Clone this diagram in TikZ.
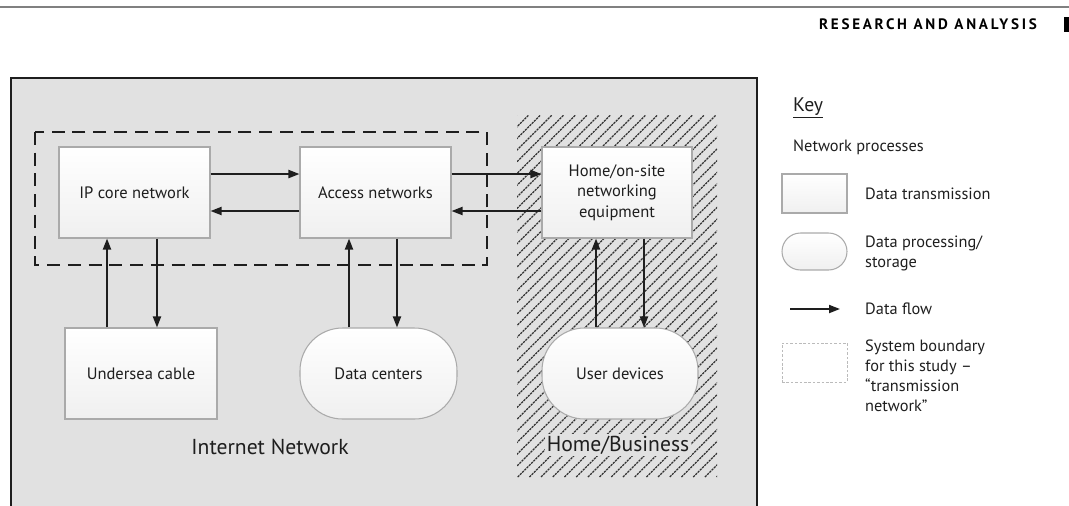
\documentclass[tikz,border=0pt]{standalone}
\usepackage{fontspec}
\setmainfont{PT Sans}
\newfontfamily\headfont[LetterSpace=18]{PT Sans}
\usepackage{tikz}
\usetikzlibrary{arrows.meta,calc,positioning}
\definecolor{panelgray}{RGB}{225,225,225}
\definecolor{edgegray}{RGB}{170,170,170}
\definecolor{inkgray}{RGB}{30,30,30}
\tikzset{
  flow/.style={-{Triangle[length=2.2mm,width=1.6mm]},line width=1.1pt,inkgray},
  proc/.style={draw=edgegray,line width=0.6pt,top color=white,bottom color=black!6,
               minimum width=3.02cm,minimum height=1.82cm,inner sep=2pt,align=center,
               font=\fontsize{9.4}{11.6}\selectfont,text=inkgray},
  store/.style={proc,rounded corners=0.85cm},
  boundary/.style={inkgray,line width=1pt,dash pattern=on 7.4pt off 4.4pt},
  hatch/.style={black!80,line width=0.7pt,dash pattern=on 1.3pt off 0.5pt},
  keybox/.style={proc,minimum width=1.3cm,minimum height=0.78cm},
  keytext/.style={anchor=west,align=left,font=\fontsize{9.3}{11.3}\selectfont,text=inkgray},
  region/.style={font=\fontsize{12.3}{14}\selectfont,text=inkgray},
}

\begin{document}
\begin{tikzpicture}[x=0.02cm,y=-0.02cm]
  \useasboundingbox (0,0) rectangle (1069,505);
  \clip (0,0) rectangle (1069,505);

  % page header
  \draw[gray,line width=0.8pt] (0,7) -- (1069,7);
  \node[anchor=east,font=\headfont\bfseries\fontsize{8.6}{10}\selectfont] (header) at (1043,24)
    {RESEARCH AND ANALYSIS};
  \fill (1064,17) rectangle (1069,32);

  % internet panel and home/business area
  \draw[inkgray,line width=1.3pt,fill=panelgray] (11,78) rectangle (757,520);
  \begin{scope}
    \clip (517,115) rectangle (717,477);
    \foreach \i in {0,...,48}
      \draw[hatch] (155+11.7*\i,477) -- ++(362,-362);
  \end{scope}
  \draw[boundary] (35,132) rectangle (487,265);

  \node[proc] (ipcore) at (134.5,192.5) {IP core network};
  \node[proc] (access) at (375.5,192.5) {Access networks};
  \node[proc,minimum width=3.0cm] (home) at (617,192.5)
    {Home/on-site\\networking\\equipment};
  \node[proc,minimum width=3.04cm] (undersea) at (141,373.5) {Undersea cable};
  \node[store,minimum width=3.14cm] (datacenters) at (378.5,373.5) {Data centers};
  \node[store,minimum width=3.12cm] (userdev) at (620,373.5) {User devices};

  \node[region] (internet) at (270,447) {Internet Network};
  \node[region,fill=panelgray,inner sep=1pt] (business) at (618,445) {Home/Business};

  \draw[flow] ([yshift=0.37cm]ipcore.east) -- ([yshift=0.37cm]access.west);
  \draw[flow] ([yshift=-0.37cm]access.west) -- ([yshift=-0.37cm]ipcore.east);
  \draw[flow] ([yshift=0.37cm]access.east) -- ([yshift=0.37cm]home.west);
  \draw[flow] ([yshift=-0.37cm]home.west) -- ([yshift=-0.37cm]access.east);

  \draw[flow] ([xshift=-0.55cm]ipcore.south |- undersea.north) -- ([xshift=-0.55cm]ipcore.south);
  \draw[flow] ([xshift=0.45cm]ipcore.south) -- ([xshift=0.45cm]ipcore.south |- undersea.north);
  \draw[flow] ([xshift=-0.53cm]access.south |- datacenters.north) -- ([xshift=-0.53cm]access.south);
  \draw[flow] ([xshift=0.43cm]access.south) -- ([xshift=0.43cm]access.south |- datacenters.north);
  \draw[flow] ([xshift=-0.42cm]home.south |- userdev.north) -- ([xshift=-0.42cm]home.south);
  \draw[flow] ([xshift=0.54cm]home.south) -- ([xshift=0.54cm]home.south |- userdev.north);

  % key
  \node[anchor=west,font=\fontsize{11.2}{13}\selectfont,text=inkgray] (keytitle) at (787,108)
    {\underline{Key}};
  \node[keytext] (keyprocs) at (787,147) {Network processes};
  \node[keybox] (keytrans) at (814.5,193.5) {};
  \node[keytext] (keytranstext) at (859,194) {Data transmission};
  \node[keybox,rounded corners=0.37cm,minimum height=0.74cm] (keystore) at (814.5,251.5) {};
  \node[keytext] (keystoretext) at (859,253) {Data processing/\\storage};
  \coordinate (flowstart) at (790,309);
  \coordinate (flowend) at (840,309);
  \draw[flow] (flowstart) -- (flowend);
  \node[keytext] (keyflowtext) at (859,309) {Data flow};
  \node[draw=edgegray!80,line width=0.5pt,dash pattern=on 1.5pt off 1pt,
        minimum width=1.3cm,minimum height=0.78cm] (keybound) at (814.5,362.5) {};
  \node[keytext] (keyboundtext) at (859,376)
    {System boundary\\for this study --\\``transmission\\network''};
\end{tikzpicture}
\end{document}
